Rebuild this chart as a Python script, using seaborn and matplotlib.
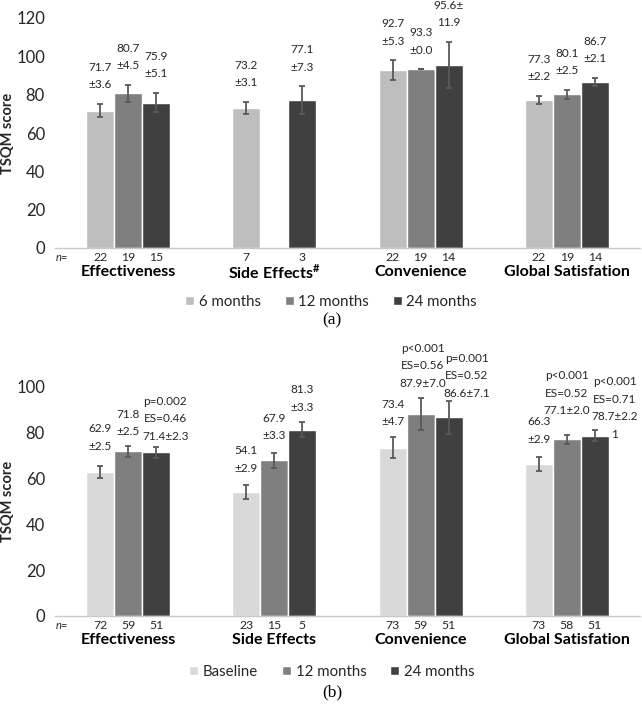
import numpy as np
import pandas as pd
import matplotlib
matplotlib.use("Agg")
import matplotlib.pyplot as plt
import seaborn as sns

# ---------------- data ----------------
categories = ["Effectiveness", "Side Effects", "Convenience", "Global Satisfation"]
cat_labels_a = ["Effectiveness", r"Side Effects$^{\mathbf{\#}}$", "Convenience", "Global Satisfation"]
cat_labels_b = ["Effectiveness", "Side Effects", "Convenience", "Global Satisfation"]

periods_a = ["6 months", "12 months", "24 months"]
a_6m = [71.7, 73.2, 92.7, 77.3]
a_12m = [80.7, np.nan, 93.3, 80.1]
a_24m = [75.9, 77.1, 95.6, 86.7]
a_sd_6m = [3.6, 3.1, 5.3, 2.2]
a_sd_12m = [4.5, np.nan, 0.0, 2.5]
a_sd_24m = [5.1, 7.3, 11.9, 2.1]
a_n_6m = ["22", "7", "22", "22"]
a_n_12m = ["19", "", "19", "19"]
a_n_24m = ["15", "3", "14", "14"]
a_lab_6m = ["71.7\n±3.6", "73.2\n±3.1", "92.7\n±5.3", "77.3\n±2.2"]
a_lab_12m = ["80.7\n±4.5", "", "93.3\n±0.0", "80.1\n±2.5"]
a_lab_24m = ["75.9\n±5.1", "77.1\n±7.3", "95.6±\n11.9", "86.7\n±2.1"]

periods_b = ["Baseline", "12 months", "24 months"]
b_base = [62.9, 54.1, 73.4, 66.3]
b_12m = [71.8, 67.9, 87.9, 77.1]
b_24m = [71.4, 81.3, 86.6, 78.7]
b_sd_base = [2.5, 2.9, 4.7, 2.9]
b_sd_12m = [2.5, 3.3, 7.0, 2.0]
b_sd_24m = [2.3, 3.3, 7.1, 2.2]
b_n_base = ["72", "23", "73", "73"]
b_n_12m = ["59", "15", "59", "58"]
b_n_24m = ["51", "5", "51", "51"]
b_lab_base = ["62.9\n±2.5", "54.1\n±2.9", "73.4\n±4.7", "66.3\n±2.9"]
b_lab_12m = ["71.8\n±2.5", "67.9\n±3.3", "p<0.001\nES=0.56\n87.9±7.0", "p<0.001\nES=0.52\n77.1±2.0"]
b_lab_24m = ["p=0.002\nES=0.46\n71.4±2.3", "81.3\n±3.3", "p=0.001\nES=0.52\n86.6±7.1",
             "p<0.001\nES=0.71\n78.7±2.2\n1"]

# ---------------- layout (label offsets in pixels: dy above error-bar top, dx) ----------------
a_off = {p: [(19, 0)] * 4 for p in periods_a}
b_off = {
    "Baseline": [(20, 0), (17, 0), (15, 0), (18, 0)],
    "12 months": [(14, 0), (17, 0), (15, 2), (24, 0)],
    "24 months": [(11, 9), (15, 0), (8, 18), (-4, 20)],
}

sns.set_theme(style="white")
plt.rcParams["font.family"] = ["Lato", "DejaVu Sans"]
plt.rcParams["mathtext.fontset"] = "custom"
plt.rcParams["mathtext.rm"] = "Lato"
plt.rcParams["mathtext.bf"] = "Lato:bold"

TXT = "#262626"
ERR = "#595959"
LS = 17.5

fig = plt.figure(figsize=(6.42, 7.07), dpi=100)
ax_a = fig.add_axes([55 / 642, 1 - 248 / 707, 585 / 642, 230 / 707])
ax_b = fig.add_axes([55 / 642, 1 - 616 / 707, 585 / 642, 229.3 / 707])


def make_df(periods, vals, sds, ns, labs):
    rows = []
    for p, v, s, n, l in zip(periods, vals, sds, ns, labs):
        for c, vv, ss, nn, ll in zip(categories, v, s, n, l):
            rows.append(dict(category=c, period=p, score=vv, sd=ss, n=nn, label=ll))
    return pd.DataFrame(rows)


def draw(ax, df, periods, palette, ymax, cat_labels, offs, legend_xy, caption, cap_xy):
    d = df.dropna(subset=["score"])
    sns.barplot(data=d, x="category", y="score", hue="period", order=categories,
                hue_order=periods, palette=palette, width=0.575, errorbar=None,
                saturation=1, ax=ax, legend=True)
    ax.set_xlim(-0.5, 3.5)
    ax.set_ylim(0, ymax)
    ax.set_yticks(np.arange(0, ymax + 1, 20))
    ax.tick_params(axis="y", length=0, pad=7.2, labelsize=12, labelcolor=TXT)
    ax.tick_params(axis="x", length=0)
    ax.set_xticks(range(len(categories)))
    ax.set_xticklabels([])
    ax.set_xlabel("")
    ax.set_ylabel("TSQM score", fontsize=10.5, fontweight="bold", color=TXT)
    ax.yaxis.set_label_coords(-40 / 585, 0.5)
    for s in ["top", "right", "left"]:
        ax.spines[s].set_visible(False)
    ax.spines["bottom"].set_color("#c8c8c8")
    ax.spines["bottom"].set_linewidth(1.0)
    ax.grid(False)

    for cont, p in zip(ax.containers, periods):
        sub = d[d["period"] == p]
        for patch in cont.patches:
            xc = patch.get_x() + patch.get_width() / 2
            ci = int(round(xc))
            row = sub[sub["category"] == categories[ci]].iloc[0]
            h = row["score"]
            sd = row["sd"]
            ax.errorbar([xc], [h], yerr=[sd], fmt="none", ecolor=ERR, elinewidth=1.3,
                        capsize=2.4, capthick=1.3, zorder=4)
            top = h + sd
            dy, dx = offs[p][ci]
            for i, line in enumerate(row["label"].split("\n")[::-1]):
                ax.annotate(line, xy=(xc, top), xytext=(dx, dy + i * LS),
                            textcoords="offset pixels", ha="center", va="center",
                            fontsize=8.5, color=TXT, annotation_clip=False)
            ax.annotate(row["n"], xy=(xc, 0), xytext=(0, -9.5), textcoords="offset pixels",
                        ha="center", va="center", fontsize=8.8, color=TXT,
                        annotation_clip=False)
    ax.annotate("n=", xy=(7 / 585, 0), xycoords=("axes fraction", "data"), xytext=(0, -9.5),
                textcoords="offset pixels", ha="center", va="center", fontsize=8,
                style="italic", color=TXT, annotation_clip=False)
    for i, cl in enumerate(cat_labels):
        ax.annotate(cl, xy=(i, 0), xytext=(0, -23), textcoords="offset pixels",
                    ha="center", va="center_baseline", fontsize=11.5, fontweight="bold",
                    color="black", annotation_clip=False)

    handles, labels = ax.get_legend_handles_labels()
    ax.legend(handles, labels, loc="center", bbox_to_anchor=legend_xy,
              bbox_transform=fig.transFigure, ncol=3, frameon=False, fontsize=10.8,
              handlelength=0.6, handleheight=0.6, handletextpad=0.3, columnspacing=1.6,
              labelcolor=TXT)
    fig.text(cap_xy[0], cap_xy[1], caption, family="Liberation Serif", fontsize=12.5,
             ha="center", va="center", color="black")


df_a = make_df(periods_a, [a_6m, a_12m, a_24m], [a_sd_6m, a_sd_12m, a_sd_24m],
               [a_n_6m, a_n_12m, a_n_24m], [a_lab_6m, a_lab_12m, a_lab_24m])
df_b = make_df(periods_b, [b_base, b_12m, b_24m], [b_sd_base, b_sd_12m, b_sd_24m],
               [b_n_base, b_n_12m, b_n_24m], [b_lab_base, b_lab_12m, b_lab_24m])

draw(ax_a, df_a, periods_a, ["#bebebe", "#7f7f7f", "#404040"], 120, cat_labels_a, a_off,
     (331 / 642, 1 - 302 / 707), "(a)", (332 / 642, 1 - 320 / 707))
draw(ax_b, df_b, periods_b, ["#d9d9d9", "#7f7f7f", "#404040"], 100, cat_labels_b, b_off,
     (332 / 642, 1 - 672 / 707), "(b)", (332 / 642, 1 - 692 / 707))

fig.savefig("out.png", dpi=100)
